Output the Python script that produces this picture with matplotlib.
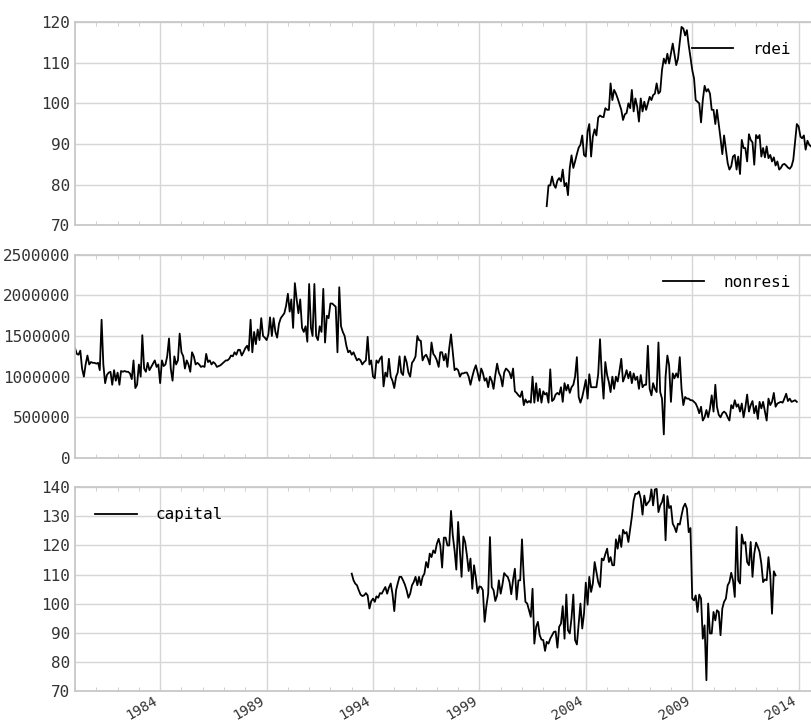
import matplotlib
matplotlib.use('Agg')
import matplotlib.pyplot as plt
import matplotlib.dates as mdates
import pandas as pd

# monthly series
rdei_start = '2002-03-01'
rdei = [74.7, 79.8, 79.8, 82.0, 80.0, 79.2, 81.0, 81.6, 80.8, 83.7, 79.6, 80.4,
        77.4, 84.1, 87.2, 84.1, 85.7, 87.5, 89.1, 89.8, 92.1, 87.3, 86.9, 93.1,
        94.9, 86.9, 91.8, 93.6, 92.1, 96.5, 97.0, 96.7, 96.6, 98.8, 98.4, 98.4,
        104.9, 100.8, 103.3, 102.4, 101.2, 99.8, 98.4, 95.9, 97.3, 97.6, 100.0, 98.8,
        103.3, 98.0, 101.2, 99.2, 95.5, 101.2, 98.0, 100.4, 98.4, 100.0, 101.6, 100.8,
        102.0, 102.4, 104.9, 102.4, 102.9, 108.2, 111.0, 109.8, 112.2, 109.8, 112.2, 114.7,
        112.2, 109.4, 111.0, 115.1, 118.8, 118.4, 116.7, 118.0, 114.3, 111.4, 108.2, 106.1,
        100.8, 100.4, 100.0, 95.3, 100.8, 104.3, 102.9, 103.5, 102.4, 98.4, 98.4, 94.9,
        98.4, 94.9, 91.4, 87.5, 92.1, 88.6, 85.3, 83.7, 84.5, 86.9, 87.3, 83.7,
        86.9, 82.6, 91.0, 89.0, 89.0, 85.7, 92.4, 91.0, 90.4, 84.9, 92.2, 91.4,
        92.2, 86.9, 89.0, 86.7, 89.4, 86.5, 87.3, 85.7, 86.7, 84.7, 85.7, 83.7,
        84.1, 84.9, 85.1, 84.7, 84.2, 83.9, 84.5, 86.1, 90.6, 94.9, 94.3, 91.8,
        91.4, 92.1, 88.6, 90.8, 89.8, 89.4]

nonresi_start = '1980-01-01'
nonresi_k = [
    1350, 1280, 1270, 1320, 1100, 1000, 1150, 1260, 1150, 1180, 1170, 1170,
    1160, 1170, 1080, 1700, 1150, 920, 1020, 1050, 1060, 900, 1080, 950,
    1050, 900, 1070, 1060, 1070, 1060, 1060, 1040, 970, 1200, 860, 900,
    1150, 1000, 1510, 1100, 1060, 1170, 1080, 1120, 1160, 1200, 1120, 1150,
    920, 1200, 1130, 1150, 1250, 1470, 1100, 950, 1250, 1150, 1200, 1530,
    1300, 1250, 1100, 1200, 1150, 1060, 1300, 1250, 1150, 1170, 1150, 1120,
    1130, 1120, 1280, 1180, 1200, 1150, 1180, 1160, 1120, 1130, 1140, 1160,
    1180, 1200, 1200, 1220, 1260, 1250, 1300, 1270, 1330, 1330, 1260, 1300,
    1350, 1380, 1320, 1700, 1300, 1550, 1400, 1580, 1450, 1720, 1500, 1480,
    1450, 1520, 1730, 1500, 1720, 1550, 1480, 1650, 1720, 1750, 1780, 1870,
    2020, 1800, 1950, 1600, 2150, 1950, 1780, 1950, 1600, 1550, 1620, 1430,
    2140, 1600, 1500, 2140, 1500, 1450, 1620, 1550, 2080, 1420, 1750, 1720,
    1900, 1900, 1880, 1860, 1300, 2100, 1620, 1550, 1500, 1380, 1300, 1320,
    1270, 1300, 1250, 1200, 1220, 1200, 1150, 1180, 1200, 1490, 1150, 1200,
    1000, 980, 1200, 1170, 1220, 1250, 880, 1050, 1000, 1220, 1000, 950,
    860, 1000, 1050, 1250, 1050, 1020, 1250, 1180, 1050, 1000, 1170, 1200,
    1250, 1500, 1450, 1440, 1200, 1250, 1270, 1220, 1150, 1420, 1280, 1250,
    1200, 1120, 1300, 1300, 1200, 1280, 1120, 1350, 1520, 1300, 1080, 1100,
    1080, 1000, 1040, 1040, 1050, 1050, 1000, 900, 1000, 1080, 1140, 1050,
    950, 1100, 1050, 950, 980, 870, 1000, 950, 850, 1020, 1160, 1050,
    1000, 880, 1050, 1100, 1080, 1050, 980, 1100, 820, 800, 770, 750,
    820, 650, 720, 680, 700, 680, 1000, 680, 920, 700, 850, 680,
    820, 780, 800, 680, 1090, 700, 720, 780, 800, 780, 870, 690,
    920, 830, 900, 800, 870, 900, 1000, 1240, 750, 680, 750, 850,
    960, 730, 1030, 870, 870, 870, 870, 1030, 1460, 1030, 730, 1180,
    1020, 930, 810, 1000, 850, 1000, 940, 1070, 1220, 940, 1000, 1080,
    980, 1060, 920, 1040, 960, 1000, 850, 1020, 870, 900, 900, 1380,
    850, 770, 920, 850, 810, 1420, 810, 730, 290, 1000, 1260, 1140,
    690, 1040, 980, 1040, 990, 1240, 850, 650, 750, 730, 730, 710,
    710, 690, 670, 620, 550, 630, 460, 500, 590, 500, 610, 770,
    570, 900, 630, 530, 500, 550, 570, 550, 500, 460, 650, 610,
    710, 630, 660, 570, 670, 500, 620, 780, 570, 650, 700, 550,
    640, 480, 690, 610, 690, 570, 460, 730, 650, 690, 800, 630,
    670, 680, 690, 680, 730, 790, 700, 730, 690, 700, 710, 690]

capital_start = '1993-01-01'
capital = [
    110.3, 108.0, 106.9, 106.3, 104.6, 103.1, 102.6, 102.8, 103.6, 102.8, 98.3, 100.8,
    101.7, 100.6, 102.5, 102.0, 103.6, 103.4, 104.6, 105.7, 103.4, 105.5, 106.9, 103.4,
    97.4, 104.6, 106.9, 109.2, 109.2, 108.0, 106.6, 104.6, 102.0, 103.4, 106.3, 107.4,
    109.2, 106.3, 109.2, 106.3, 109.2, 110.3, 114.3, 112.4, 117.2, 116.0, 118.3, 117.4,
    120.6, 122.3, 120.0, 112.4, 122.7, 122.7, 120.0, 120.0, 131.9, 123.5, 118.3, 111.7,
    128.1, 117.8, 109.2, 123.1, 121.2, 116.6, 111.2, 115.5, 105.1, 113.2, 108.9, 103.6,
    105.9, 105.7, 104.6, 93.7, 99.1, 103.4, 122.9, 105.7, 104.6, 100.9, 102.8, 108.0,
    103.4, 106.6, 110.5, 109.7, 109.2, 107.4, 103.2, 108.2, 112.0, 101.4, 108.0, 108.0,
    122.1, 108.6, 100.6, 100.0, 97.7, 95.4, 105.1, 86.2, 92.0, 93.7, 89.1, 87.6,
    87.4, 83.7, 86.8, 86.2, 87.9, 89.1, 90.2, 90.4, 84.8, 92.0, 93.1, 99.1,
    87.9, 103.1, 90.8, 89.7, 95.0, 103.1, 87.4, 85.9, 93.1, 100.0, 91.4, 96.5,
    107.2, 99.6, 109.2, 104.0, 106.9, 114.3, 110.9, 107.4, 105.7, 115.5, 114.9, 117.0,
    118.9, 114.3, 116.0, 113.2, 113.2, 122.1, 118.9, 123.5, 119.5, 125.4, 124.1, 124.6,
    121.2, 125.8, 129.8, 135.5, 137.8, 137.8, 138.6, 136.1, 130.6, 137.2, 133.8, 134.7,
    135.5, 139.3, 133.8, 139.3, 139.5, 131.5, 133.8, 135.0, 137.5, 121.8, 137.0, 132.9,
    133.6, 127.5, 126.4, 124.6, 127.5, 127.2, 130.4, 133.2, 134.4, 132.7, 124.6, 126.0,
    101.7, 101.1, 102.8, 97.1, 103.1, 101.7, 87.9, 92.5, 73.6, 100.0, 89.7, 89.7,
    97.1, 94.2, 97.7, 97.1, 89.1, 98.3, 100.6, 101.7, 106.3, 107.4, 110.6, 108.0,
    102.3, 126.4, 108.0, 106.9, 123.8, 120.6, 121.2, 114.3, 113.2, 121.2, 109.2, 117.2,
    121.0, 119.5, 117.8, 113.7, 107.4, 108.3, 108.0, 116.0, 109.7, 96.5, 111.1, 109.7]

year_ticks = [1984, 1989, 1994, 1999, 2004, 2009, 2014]

rdei_s = pd.Series(rdei, index=pd.date_range(rdei_start, periods=len(rdei), freq='MS'))
nonresi_s = pd.Series([v * 1000 for v in nonresi_k],
                      index=pd.date_range(nonresi_start, periods=len(nonresi_k), freq='MS'))
capital_s = pd.Series(capital, index=pd.date_range(capital_start, periods=len(capital), freq='MS'))

plt.rcParams['font.family'] = ['DejaVu Sans Mono']
plt.rcParams['font.size'] = 11.5

fig, axes = plt.subplots(3, 1, figsize=(8.11, 7.27), dpi=100, sharex=True)
fig.subplots_adjust(left=0.0925, right=1.0, top=0.9697, bottom=0.05, hspace=0.145)

panels = [
    (rdei_s, 'rdei', (70, 120), range(70, 121, 10), 'upper right'),
    (nonresi_s, 'nonresi', (0, 2500000), range(0, 2500001, 500000), 'upper right'),
    (capital_s, 'capital', (70, 140), range(70, 141, 10), 'upper left'),
]

xmin = nonresi_s.index[0]
xmax = rdei_s.index[-1]

for ax, (s, name, ylim, yt, loc) in zip(axes, panels):
    ax.plot(s.index, s.values, color='black', lw=1.3, label=name)
    ax.set_ylim(*ylim)
    ax.set_yticks(list(yt))
    ax.ticklabel_format(style='plain', axis='y', useOffset=False)
    ax.set_xlim(xmin, xmax)
    ax.grid(True, which='major', color='#d6d6d6', lw=1.0)
    ax.set_axisbelow(True)
    for side in ['top', 'bottom', 'left']:
        ax.spines[side].set_color('#c8c8c8')
        ax.spines[side].set_linewidth(1.3)
    ax.spines['right'].set_visible(False)
    ax.tick_params(which='major', length=0, colors='#333333', labelsize=11.5)
    ax.tick_params(which='minor', direction='in', length=3, color='#c8c8c8',
                   top=True, bottom=True)
    ax.legend(loc=loc, frameon=False, handlelength=2.6, handletextpad=1.2,
              borderaxespad=0.85, fontsize=11.5)

axes[-1].set_xticks([pd.Timestamp(f'{y}-01-01') for y in year_ticks])
axes[-1].xaxis.set_minor_locator(mdates.YearLocator(1))
axes[-1].xaxis.set_major_formatter(mdates.DateFormatter('%Y'))
axes[-1].tick_params(axis='x', which='major', labelsize=10, pad=2)
for lbl in axes[-1].get_xticklabels():
    lbl.set_rotation(30)
    lbl.set_ha('right')

fig.savefig('out.png', dpi=100)
